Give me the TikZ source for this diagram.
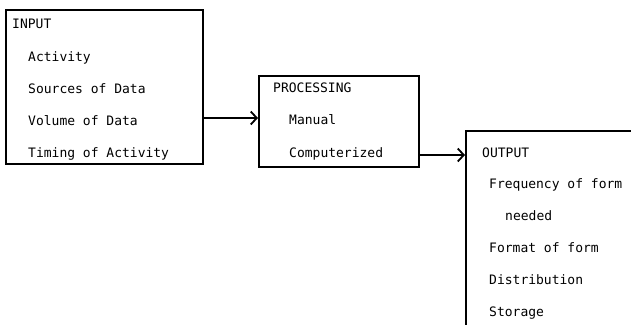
\documentclass[tikz,border=0pt]{standalone}
\usepackage{fontspec}
\setmonofont{DejaVu Sans Mono}
\usetikzlibrary{arrows.meta}
\tikzset{
  box/.style={draw, line width=2pt, inner sep=0pt, anchor=north west},
  label/.style={anchor=base west, inner sep=0pt, font=\ttfamily\fontsize{13}{15}\selectfont},
  arr/.style={line width=1.8pt, -{Straight Barb[length=6pt,width=13pt,line width=1.8pt]}}
}
\begin{document}
\begin{tikzpicture}[x=1pt,y=-1pt]
\useasboundingbox (0,0) rectangle (631,324);
\clip (0,0) rectangle (631,324);
\fill[white] (0,0) rectangle (631,324);

% input stage
\node[box, minimum width=197pt, minimum height=154pt] (inbox) at (5,9) {};
\node[label] (intitle) at (12,28) {INPUT};
\node[label] (in1) at (28,61) {Activity};
\node[label] (in2) at (28,93) {Sources of Data};
\node[label] (in3) at (28,125) {Volume of Data};
\node[label] (in4) at (28,157) {Timing of Activity};

% processing stage
\node[box, minimum width=160pt, minimum height=91pt] (procbox) at (258,75) {};
\node[label] (proctitle) at (273,92) {PROCESSING};
\node[label] (proc1) at (289,124) {Manual};
\node[label] (proc2) at (289,157) {Computerized};

% output stage (runs off the page to the right and bottom)
\node[box, minimum width=220pt, minimum height=220pt] (outbox) at (465,130) {};
\node[label] (outtitle) at (482,157) {OUTPUT};
\node[label] (out1) at (489,188) {Frequency of form};
\node[label] (out2) at (505,220) {needed};
\node[label] (out3) at (489,252) {Format of form};
\node[label] (out4) at (489,284) {Distribution};
\node[label] (out5) at (489,316) {Storage};

% flow arrows
\coordinate (a1) at (0,118);
\coordinate (a2) at (0,155);
\draw[arr] (inbox.east |- a1) -- (procbox.west |- a1);
\draw[arr] (procbox.east |- a2) -- (outbox.west |- a2);
\end{tikzpicture}
\end{document}
